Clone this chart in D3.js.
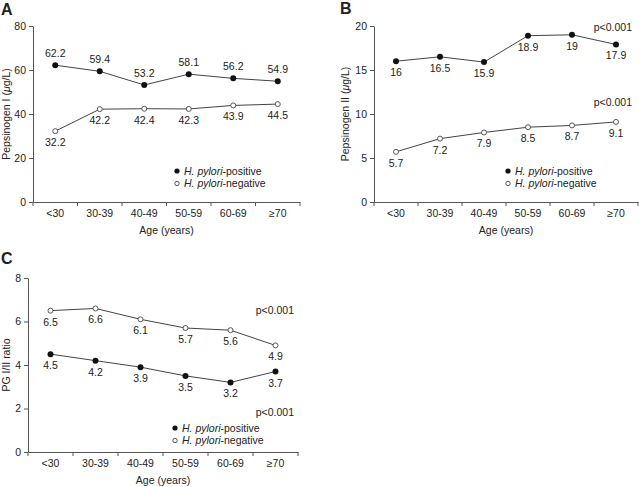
<!DOCTYPE html>
<html><head><meta charset="utf-8">
<script src="https://cdn.jsdelivr.net/npm/d3@7/dist/d3.min.js"></script>
<style>
body{margin:0;background:#fff;}
text{font-family:"Liberation Sans",Arial,Helvetica,sans-serif;fill:#222;}
</style></head>
<body><svg id="c" width="639" height="487"></svg>
<script>
const ageGroups = ["<30","30-39","40-49","50-59","60-69","\u226570"];
const pg1Positive = [62.2,59.4,53.2,58.1,56.2,54.9];
const pg1Negative = [32.2,42.2,42.4,42.3,43.9,44.5];
const pg2Positive = [16,16.5,15.9,18.9,19,17.9];
const pg2Negative = [5.7,7.2,7.9,8.5,8.7,9.1];
const ratioPositive = [4.5,4.2,3.9,3.5,3.2,3.7];
const ratioNegative = [6.5,6.6,6.1,5.7,5.6,4.9];
const pg1Ticks = [0,20,40,60,80];
const pg2Ticks = [0,5,10,15,20];
const ratioTicks = [0,2,4,6,8];

const svg = d3.select("#c");
const FS = 10.5;

function panel(o){
  const g = svg.append("g");
  const x = d3.scaleBand().domain(ageGroups).range([o.x0,o.x1]);
  const y = d3.scaleLinear().domain([0,o.ticks[o.ticks.length-1]]).range([o.yb,o.yt]);
  // y axis
  const ya = g.append("g").attr("transform",`translate(${o.x0},0)`)
    .call(d3.axisLeft(y).tickValues(o.ticks).tickSize(4).tickPadding(3).tickSizeOuter(0));
  ya.select(".domain").attr("stroke","#555");
  ya.selectAll(".tick line").attr("stroke","#555");
  ya.selectAll("text").style("font-size",FS+"px").attr("fill","#222").style("font-family","Liberation Sans, Arial, sans-serif");
  // x axis
  const xa = g.append("g").attr("transform",`translate(0,${o.yb})`)
    .call(d3.axisBottom(x).tickSize(0).tickPadding(8));
  xa.select(".domain").attr("stroke","#555");
  xa.selectAll("text").style("font-size",FS+"px").attr("fill","#222").style("font-family","Liberation Sans, Arial, sans-serif");
  const bounds = ageGroups.map(d=>x(d)).concat([x.range()[1]]);
  xa.selectAll(".bt").data(bounds).enter().append("line")
    .attr("x1",d=>d).attr("x2",d=>d).attr("y1",0).attr("y2",4).attr("stroke","#555");
  // titles
  g.append("text").attr("x",(o.x0+o.x1)/2).attr("y",o.yb+32).attr("text-anchor","middle")
    .style("font-size",FS+"px").text("Age (years)");
  const yl = g.append("text").attr("transform",`translate(${o.ylx},${(o.yt+o.yb)/2}) rotate(-90)`)
    .attr("text-anchor","middle").style("font-size",FS+"px");
  o.ylabel(yl);
  g.append("text").attr("x",o.lx).attr("y",o.ly).style("font-size","16px").style("font-weight","bold")
    .attr("fill","#111").text(o.letter);
  const line = d3.line().x((d,i)=>x(ageGroups[i])+x.bandwidth()/2).y(d=>y(d));
  o.series.forEach(s=>{
    g.append("path").datum(s.values).attr("d",line).attr("fill","none").attr("stroke","#444").attr("stroke-width",1);
    g.selectAll(null).data(s.values).enter().append("circle")
      .attr("cx",(d,i)=>x(ageGroups[i])+x.bandwidth()/2).attr("cy",d=>y(d))
      .attr("r",s.filled?3:2.5).attr("fill",s.filled?"#111":"#fff").attr("stroke",s.filled?"#111":"#444").attr("stroke-width",s.filled?0:0.9);
    g.selectAll(null).data(s.values).enter().append("text")
      .attr("x",(d,i)=>x(ageGroups[i])+x.bandwidth()/2).attr("y",d=>y(d)+(s.pos==="above"?-8:15))
      .attr("text-anchor","middle").style("font-size",FS+"px").text(d=>d);
    if(s.p){
      g.append("text").attr("x",s.p[0]).attr("y",s.p[1]).attr("text-anchor","end").style("font-size",FS+"px").text("p<0.001");
    }
  });
  // legend
  [["positive",true],["negative",false]].forEach((l,i)=>{
    const ly = o.legY + i*12.5;
    g.append("circle").attr("cx",o.legX).attr("cy",ly).attr("r",l[1]?2.6:2.2)
      .attr("fill",l[1]?"#111":"#fff").attr("stroke",l[1]?"#111":"#444").attr("stroke-width",l[1]?0:0.9);
    const t = g.append("text").attr("x",o.legX+7).attr("y",ly+3.5).style("font-size",FS+"px");
    t.append("tspan").style("font-style","italic").text("H. pylori");
    t.append("tspan").text("-"+l[0]);
  });
}

function pgLabel(num){
  return t=>{
    t.append("tspan").text("Pepsinogen "+num+" (");
    t.append("tspan").style("font-style","italic").text("\u03bc");
    t.append("tspan").text("g/L)");
  };
}

panel({x0:33,x1:300,yt:26,yb:202,ticks:pg1Ticks,letter:"A",lx:1,ly:15,ylx:10,ylabel:pgLabel("I"),
  legX:177,legY:171,
  series:[{values:pg1Positive,filled:true,pos:"above"},{values:pg1Negative,filled:false,pos:"below"}]});
panel({x0:374,x1:638,yt:26,yb:202,ticks:pg2Ticks,letter:"B",lx:340,ly:14,ylx:349,ylabel:pgLabel("II"),
  legX:508,legY:171,
  series:[{values:pg2Positive,filled:true,pos:"below",p:[632,31]},{values:pg2Negative,filled:false,pos:"below",p:[632,106]}]});
panel({x0:28,x1:298,yt:278,yb:452,ticks:ratioTicks,letter:"C",lx:1,ly:264,ylx:10,ylabel:t=>t.text("PG I/II ratio"),
  legX:175,legY:428,
  series:[{values:ratioPositive,filled:true,pos:"below",p:[294,416]},{values:ratioNegative,filled:false,pos:"below",p:[294,314]}]});
</script></body></html>
